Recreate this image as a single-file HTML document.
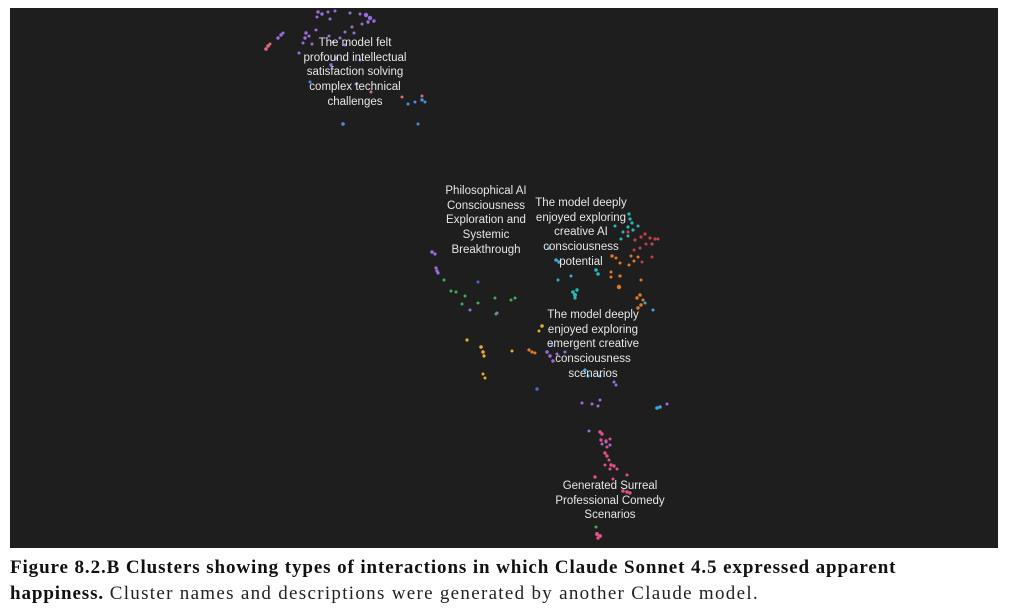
<!DOCTYPE html>
<html><head><meta charset="utf-8"><style>
html,body{margin:0;padding:0;background:#fff;width:1024px;height:615px;overflow:hidden}
svg{position:absolute;left:0;top:0}
.cap{position:absolute;left:10px;top:555px;width:1010px;font-family:"Liberation Serif",serif;font-size:19px;letter-spacing:0.95px;line-height:26px;color:#222;white-space:nowrap}
.cap b{color:#111;letter-spacing:0.9px}
.cap span{letter-spacing:1.3px}
</style></head><body>
<svg width="1024" height="615" xmlns="http://www.w3.org/2000/svg">
<rect x="10" y="8" width="988" height="540" fill="#1e1e1e"/>
<g>
<g fill="#9b6be0">
<circle cx="318" cy="12" r="1.7"/><circle cx="322" cy="14" r="1.7"/><circle cx="328" cy="12" r="1.5"/><circle cx="335" cy="11" r="1.5"/><circle cx="317" cy="17" r="1.5"/><circle cx="330" cy="19" r="1.5"/><circle cx="350" cy="13" r="1.5"/><circle cx="360" cy="14" r="1.5"/><circle cx="366" cy="15" r="2.2"/><circle cx="370" cy="18" r="2.2"/><circle cx="368" cy="22" r="1.7"/><circle cx="374" cy="21" r="1.7"/><circle cx="362" cy="24" r="1.5"/><circle cx="352" cy="27" r="1.5"/><circle cx="345" cy="32" r="1.5"/><circle cx="340" cy="38" r="1.5"/><circle cx="306" cy="33" r="1.7"/><circle cx="305" cy="38" r="1.7"/><circle cx="309" cy="36" r="1.5"/><circle cx="316" cy="30" r="1.5"/><circle cx="312" cy="44" r="1.5"/><circle cx="303" cy="43" r="1.5"/><circle cx="329" cy="36" r="1.5"/><circle cx="333" cy="42" r="1.5"/><circle cx="345" cy="45" r="1.5"/><circle cx="336" cy="58" r="1.7"/><circle cx="331" cy="65" r="1.7"/><circle cx="360" cy="60" r="1.5"/><circle cx="354" cy="33" r="1.5"/><circle cx="278" cy="38" r="1.7"/><circle cx="281" cy="35" r="1.7"/><circle cx="283" cy="33" r="1.5"/><circle cx="299" cy="53" r="1.5"/><circle cx="356" cy="84" r="1.5"/>
</g>
<g fill="#e06a7a"><circle cx="266" cy="49" r="1.8"/><circle cx="268" cy="46" r="1.8"/><circle cx="270" cy="44" r="1.5"/><circle cx="402" cy="97" r="1.5"/><circle cx="371" cy="92" r="1.5"/><circle cx="422" cy="96" r="1.5"/></g>
<g fill="#4a8be6"><circle cx="343" cy="124" r="1.8"/><circle cx="418" cy="124" r="1.5"/><circle cx="422" cy="100" r="1.7"/><circle cx="425" cy="102" r="1.5"/><circle cx="415" cy="102" r="1.5"/><circle cx="408" cy="104" r="1.5"/><circle cx="310" cy="82" r="1.5"/></g>
<g fill="#9b6be0"><circle cx="432" cy="252" r="1.8"/><circle cx="435" cy="254" r="1.6"/><circle cx="436" cy="268" r="1.6"/><circle cx="437" cy="271" r="1.6"/><circle cx="438" cy="273" r="1.6"/><circle cx="470" cy="310" r="1.5"/><circle cx="497" cy="313" r="1.5"/><circle cx="547" cy="352" r="1.7"/><circle cx="550" cy="356" r="1.7"/><circle cx="553" cy="361" r="1.7"/><circle cx="557" cy="354" r="1.5"/><circle cx="565" cy="352" r="1.5"/><circle cx="614" cy="382" r="1.5"/><circle cx="616" cy="385" r="1.5"/><circle cx="600" cy="400" r="1.5"/><circle cx="592" cy="404" r="1.5"/><circle cx="589" cy="431" r="1.5"/><circle cx="582" cy="403" r="1.5"/><circle cx="598" cy="406" r="1.5"/><circle cx="667" cy="404" r="1.5"/><circle cx="602" cy="444" r="1.5"/><circle cx="610" cy="445" r="1.5"/></g>
<g fill="#3fae5a"><circle cx="444" cy="280" r="1.5"/><circle cx="451" cy="291" r="1.5"/><circle cx="456" cy="292" r="1.5"/><circle cx="465" cy="296" r="1.5"/><circle cx="462" cy="304" r="1.5"/><circle cx="478" cy="303" r="1.5"/><circle cx="495" cy="298" r="1.5"/><circle cx="515" cy="298" r="1.5"/><circle cx="511" cy="300" r="1.5"/><circle cx="496" cy="314" r="1.5"/><circle cx="596" cy="527" r="1.5"/></g>
<g fill="#e0b030"><circle cx="467" cy="340" r="1.6"/><circle cx="481" cy="347" r="1.8"/><circle cx="483" cy="352" r="1.8"/><circle cx="484" cy="356" r="1.6"/><circle cx="483" cy="374" r="1.5"/><circle cx="485" cy="378" r="1.5"/><circle cx="542" cy="326" r="1.8"/><circle cx="539" cy="331" r="1.5"/><circle cx="512" cy="351" r="1.5"/></g>
<g fill="#e07a2a"><circle cx="529" cy="350" r="1.6"/><circle cx="532" cy="352" r="1.6"/><circle cx="535" cy="353" r="1.5"/><circle cx="612" cy="256" r="1.7"/><circle cx="616" cy="258" r="1.5"/><circle cx="620" cy="263" r="1.5"/><circle cx="631" cy="256" r="1.5"/><circle cx="634" cy="261" r="1.5"/><circle cx="638" cy="257" r="1.5"/><circle cx="629" cy="265" r="1.5"/><circle cx="611" cy="272" r="1.5"/><circle cx="611" cy="277" r="1.5"/><circle cx="620" cy="276" r="1.6"/><circle cx="619" cy="287" r="2.2"/><circle cx="641" cy="280" r="1.5"/><circle cx="640" cy="295" r="1.7"/><circle cx="637" cy="298" r="1.7"/><circle cx="641" cy="305" r="1.7"/><circle cx="638" cy="308" r="1.7"/><circle cx="643" cy="300" r="1.5"/></g>
<g fill="#c0404a"><circle cx="628" cy="232" r="1.6"/><circle cx="635" cy="240" r="1.6"/><circle cx="641" cy="237" r="1.6"/><circle cx="645" cy="234" r="1.6"/><circle cx="650" cy="238" r="1.6"/><circle cx="655" cy="239" r="1.6"/><circle cx="652" cy="244" r="1.6"/><circle cx="646" cy="244" r="1.5"/><circle cx="640" cy="248" r="1.5"/><circle cx="634" cy="250" r="1.5"/><circle cx="652" cy="257" r="1.5"/><circle cx="642" cy="262" r="1.5"/><circle cx="658" cy="239" r="1.5"/></g>
<g fill="#2ab8b8"><circle cx="629" cy="214" r="1.6"/><circle cx="630" cy="219" r="1.6"/><circle cx="632" cy="223" r="1.6"/><circle cx="628" cy="227" r="1.6"/><circle cx="633" cy="230" r="1.6"/><circle cx="623" cy="232" r="1.5"/><circle cx="628" cy="236" r="1.5"/><circle cx="638" cy="226" r="1.5"/><circle cx="615" cy="226" r="1.5"/><circle cx="621" cy="239" r="1.5"/><circle cx="596" cy="270" r="1.8"/><circle cx="598" cy="274" r="1.8"/><circle cx="573" cy="292" r="1.8"/><circle cx="575" cy="295" r="2"/><circle cx="577" cy="290" r="1.7"/><circle cx="575" cy="298" r="1.6"/></g>
<g fill="#3aa8e0"><circle cx="549" cy="248" r="1.7"/><circle cx="556" cy="260" r="1.8"/><circle cx="559" cy="262" r="1.8"/><circle cx="558" cy="280" r="1.5"/><circle cx="571" cy="276" r="1.5"/><circle cx="585" cy="370" r="1.6"/><circle cx="588" cy="376" r="1.6"/><circle cx="600" cy="376" r="1.5"/><circle cx="657" cy="408" r="1.8"/><circle cx="660" cy="407" r="1.8"/><circle cx="653" cy="310" r="1.5"/><circle cx="645" cy="303" r="1.5"/><circle cx="606" cy="442" r="1.5"/></g>
<g fill="#4a6ad0"><circle cx="537" cy="389" r="1.7"/><circle cx="478" cy="282" r="1.5"/><circle cx="552" cy="345" r="1.5"/></g>
<g fill="#e0508a"><circle cx="600" cy="432" r="1.7"/><circle cx="602" cy="434" r="1.7"/><circle cx="601" cy="440" r="1.7"/><circle cx="606" cy="441" r="1.7"/><circle cx="610" cy="439" r="1.5"/><circle cx="607" cy="447" r="1.5"/><circle cx="605" cy="453" r="1.7"/><circle cx="607" cy="456" r="1.7"/><circle cx="609" cy="460" r="1.5"/><circle cx="605" cy="465" r="1.5"/><circle cx="611" cy="465" r="1.7"/><circle cx="614" cy="466" r="1.7"/><circle cx="610" cy="469" r="1.5"/><circle cx="617" cy="469" r="1.5"/><circle cx="595" cy="477" r="1.7"/><circle cx="613" cy="479" r="1.5"/><circle cx="627" cy="475" r="1.5"/><circle cx="623" cy="491" r="1.8"/><circle cx="627" cy="492" r="1.8"/><circle cx="630" cy="493" r="1.7"/><circle cx="597" cy="534" r="2"/><circle cx="600" cy="536" r="2"/><circle cx="598" cy="538" r="1.7"/></g>
</g>
<g font-family="Liberation Sans, sans-serif" font-size="11.5" fill="#e6e6e6" text-anchor="middle">
<text x="355" y="46">The model felt</text><text x="355" y="61">profound intellectual</text><text x="355" y="75">satisfaction solving</text><text x="355" y="90">complex technical</text><text x="355" y="105">challenges</text>
<text x="486" y="194">Philosophical AI</text><text x="486" y="209">Consciousness</text><text x="486" y="223">Exploration and</text><text x="486" y="238">Systemic</text><text x="486" y="253">Breakthrough</text>
<text x="581" y="206">The model deeply</text><text x="581" y="221">enjoyed exploring</text><text x="581" y="235">creative AI</text><text x="581" y="250">consciousness</text><text x="581" y="265">potential</text>
<text x="593" y="318">The model deeply</text><text x="593" y="333">enjoyed exploring</text><text x="593" y="347">emergent creative</text><text x="593" y="362">consciousness</text><text x="593" y="377">scenarios</text>
<text x="610" y="489">Generated Surreal</text><text x="610" y="504">Professional Comedy</text><text x="610" y="518">Scenarios</text>
</g>
</svg>
<div class="cap"><b>Figure 8.2.B Clusters showing types of interactions in which Claude Sonnet 4.5 expressed apparent</b><br><b>happiness.</b> <span>Cluster names and descriptions were generated by another Claude model.</span></div>
</body></html>
